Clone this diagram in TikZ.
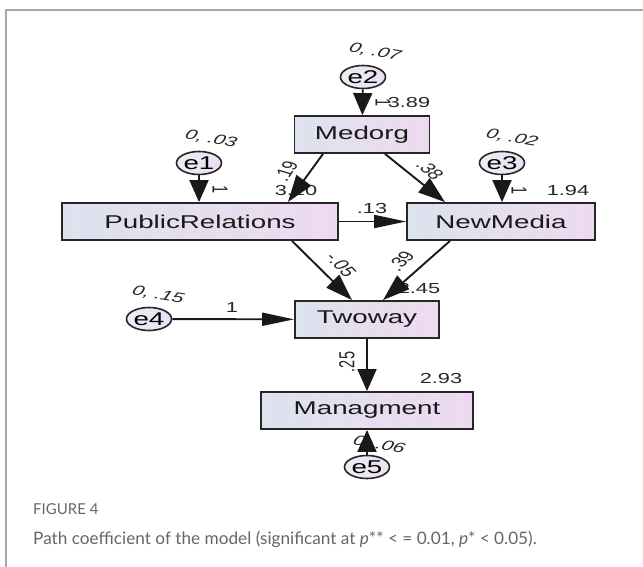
\documentclass[tikz,border=0pt]{standalone}
\usepackage{fontspec}
\setmainfont{Liberation Sans}
\newfontfamily\capfont{Lato}
\usetikzlibrary{shapes.geometric,arrows.meta}
\newcommand\sx[1]{\scalebox{1.5}[1]{#1}}
\newcommand\sxr[2]{\scalebox{1.5}[1]{\rotatebox{#1}{#2}}}
\definecolor{boxL}{HTML}{DDE3EE}
\definecolor{boxR}{HTML}{EEDAF0}
\definecolor{ellF}{HTML}{EBDFF2}
\definecolor{capgray}{HTML}{666666}
\definecolor{framegray}{HTML}{A8A8A8}
\tikzset{
  varbox/.style={rectangle, draw=black!85, line width=1.8pt, left color=boxL, right color=boxR,
    minimum height=37pt, inner sep=0pt, font=\fontsize{18.5}{21}\selectfont, text=black!90},
  errvar/.style={ellipse, draw=black!85, line width=1.6pt, left color=boxL!60!white, right color=ellF,
    minimum width=45pt, minimum height=23pt, inner sep=0pt, font=\fontsize{18.5}{20}\selectfont},
  lab/.style={inner sep=0pt, font=\fontsize{14.5}{16}\selectfont, text=black!85},
  varlab/.style={inner sep=0pt, font=\fontsize{14}{16}\selectfont\itshape, text=black!85},
  conn/.style={line width=1.9pt, black!90},
  vtip/.style={-{Triangle[length=22pt,width=19pt]}},
  htip/.style={-{Triangle[length=32pt,width=13pt]}},
  dtip/.style={-{Triangle[length=27pt,width=18pt]}},
}
\begin{document}
\begin{tikzpicture}[x=1pt,y=-1pt]
\useasboundingbox (0,0) rectangle (643,567);
\fill[white] (0,0) rectangle (643,567);
\draw[framegray, line width=1.4pt] (6,567) -- (6,10) -- (643,10);

% labels drawn first (some are partly covered by arrows)
\node[lab] (l310) at (296,191) {\sx{3.10}};
\node[lab] (l245) at (419,289) {\sx{2.45}};
\node[varlab] (v5) at (379,445) {\sxr{-14}{0, .06}};

% variables
\node[varbox, minimum width=135pt] (Med) at (362,134.5) {\sx{Medorg}};
\node[varbox, minimum width=276pt] (PR) at (200,221.5) {\sx{PublicRelations}};
\node[varbox, minimum width=188pt] (NM) at (501,221.5) {\sx{NewMedia}};
\node[varbox, minimum width=144pt] (TW) at (367,319.5) {\sx{Twoway}};
\node[varbox, minimum width=212pt] (MG) at (367,410.5) {\sx{Managment}};

\node[errvar] (e1) at (199,163) {\sx{e1}};
\node[errvar] (e2) at (363,77) {\sx{e2}};
\node[errvar] (e3) at (502,163) {\sx{e3}};
\node[errvar] (e4) at (149,319) {\sx{e4}};
\node[errvar] (e5) at (367,467) {\sx{e5}};

% connectors
\draw[conn,vtip] (e2) -- (Med);
\draw[conn,vtip] (e1) -- (e1 |- PR.north);
\draw[conn,vtip] (e3) -- (e3 |- NM.north);
\draw[conn,dtip] ([xshift=-39pt]Med.south) -- ([xshift=88pt]PR.north);
\draw[conn,dtip] ([xshift=23pt]Med.south) -- ([xshift=-56pt]NM.north);
\draw[conn,htip] (PR) -- (NM);
\draw[conn,dtip] ([xshift=92pt]PR.south) -- ([xshift=-15pt]TW.north);
\draw[conn,dtip] ([xshift=-51pt]NM.south) -- ([xshift=16pt]TW.north);
\draw[conn,htip] (e4) -- (TW);
\draw[conn,vtip] (TW) -- (MG);
\draw[conn,vtip] (e5) -- (MG);

% other labels
\node[varlab] (v2) at (375,52) {\sxr{-14}{0, .07}};
\node[lab] (w2) at (383,103) {\sxr{-90}{1}};
\node[lab] (i2) at (409,103) {\sx{3.89}};
\node[varlab] (v1) at (211,139) {\sxr{-14}{0, .03}};
\node[lab] (w1) at (220,190) {\sxr{-90}{1}};
\node[varlab] (v3) at (512,138) {\sxr{-14}{0, .02}};
\node[lab] (w3) at (519,191) {\sxr{-90}{1}};
\node[lab] (i3) at (568,191) {\sx{1.94}};
\node[varlab] (v4) at (158,295) {\sxr{-14}{0, .15}};
\node[lab] (w4) at (232,308) {\sx{1}};
\node[lab] (c1) at (286,171) {\sxr{66}{.19}};
\node[lab] (c2) at (430,170) {\sxr{-52}{.38}};
\node[lab] (c3) at (372,209) {\sx{.13}};
\node[lab] (c4) at (341,265) {\sxr{-56}{-.05}};
\node[lab] (c5) at (401,261) {\sxr{56}{.39}};
\node[lab] (c6) at (347,362) {\sxr{90}{.25}};
\node[lab] (i5) at (441,379) {\sx{2.93}};

% caption
\node[anchor=base west, inner sep=0pt, text=capgray, font=\capfont\fontsize{15}{17}\selectfont] (fig) at (33,514) {FIGURE 4};
\node[anchor=base west, inner sep=0pt, text=capgray, font=\capfont\fontsize{17.2}{20}\selectfont] (cap) at (33,544)
  {Path coefficient of the model (significant at \textit{p}** < = 0.01, \textit{p}* < 0.05).};
\end{tikzpicture}
\end{document}
